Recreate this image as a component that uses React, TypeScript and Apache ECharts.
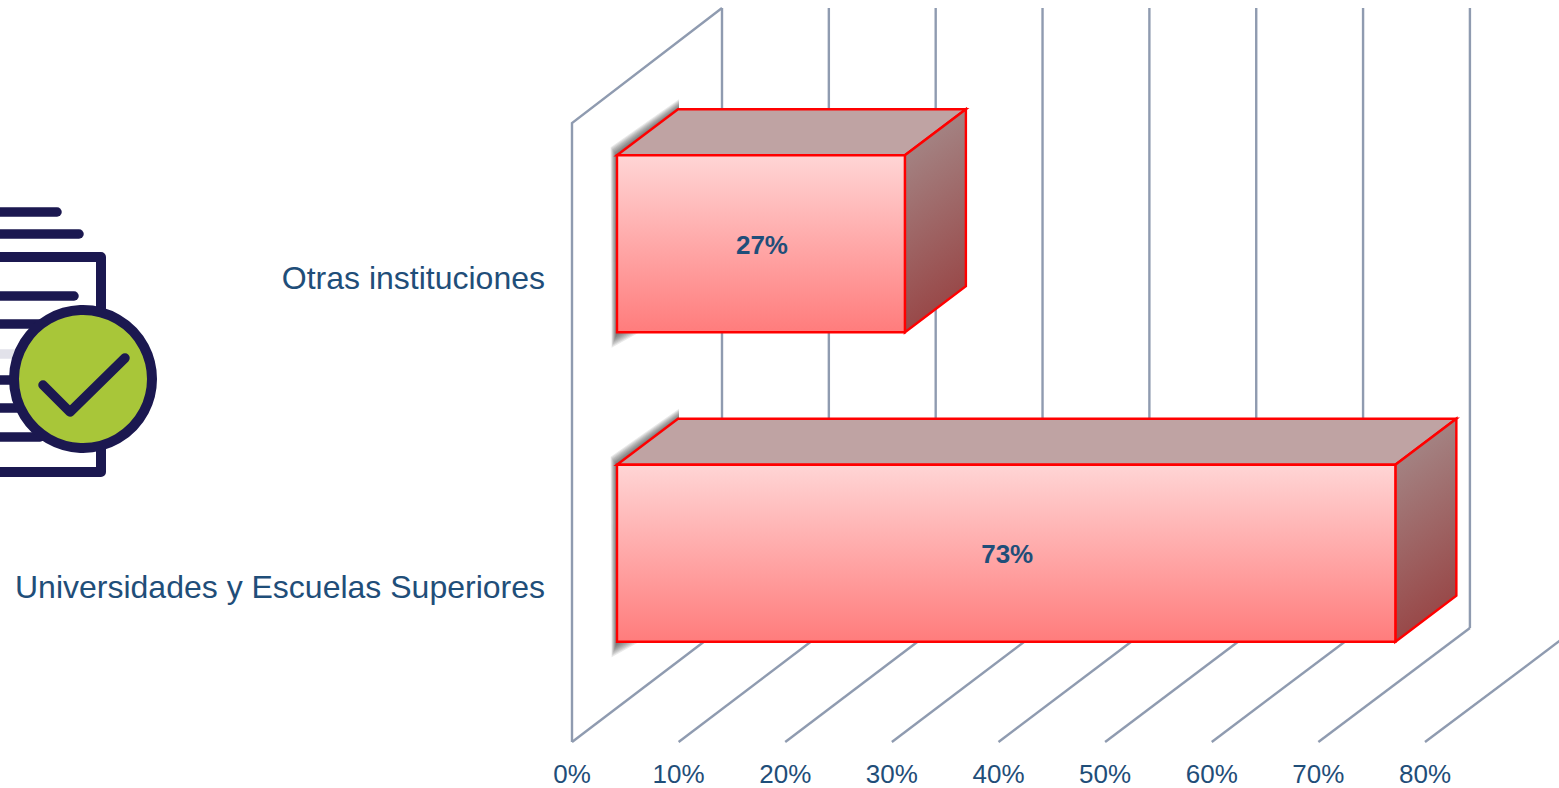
import React, { useEffect, useRef } from "react";
import * as echarts from "echarts";

const categories = ["Otras instituciones", "Universidades y Escuelas Superiores"];
const shareValues = [27, 73];
const axisTicks = [0, 10, 20, 30, 40, 50, 60, 70, 80];

const TEXT = "#1F4E79";
const GRID = "#8F9BB0";
const NAVY = "#1B1850";
const FONT = '"Liberation Sans", Arial, sans-serif';

// 3D projection offsets, in pixels
const WALL_DX = 150;
const WALL_DY = -114;
const WALL_SPREAD = 0.022;
const BAR_START_DX = 45;
const BAR_START_DY = -34;
const BAR_DEPTH_DX = 61;
const BAR_DEPTH_DY = -46;
const BAR_BAND = 0.572;
const SHADOW_LAYERS = [9, 8, 7, 6, 5, 4, 3, 2, 1];

function renderGrid(params: any, api: any) {
  const t = api.value(0);
  const x = api.coord([t, 0])[0];
  const backX = x + WALL_DX + t * WALL_SPREAD;
  const sys = params.coordSys;
  const top = sys.y;
  const floor = sys.y + sys.height;
  const lineStyle = { stroke: GRID, lineWidth: 2.4, fill: "none" };
  const children: any[] = [
    { type: "line", shape: { x1: x, y1: floor, x2: backX, y2: floor + WALL_DY }, style: lineStyle },
    { type: "line", shape: { x1: backX, y1: floor + WALL_DY, x2: backX, y2: top + WALL_DY - 1 }, style: lineStyle },
  ];
  if (t === 0) {
    children.push({
      type: "polyline",
      shape: { points: [[x, floor], [x, top], [backX, top + WALL_DY - 1]] },
      style: lineStyle,
    });
  }
  return { type: "group", children };
}

function renderBar(_params: any, api: any) {
  const v = api.value(0);
  const cat = api.value(1);
  const start = api.coord([0, cat]);
  const end = api.coord([v, cat]);
  const h = api.size([0, 1])[1] * BAR_BAND;
  const x0 = start[0] + BAR_START_DX;
  const x1 = end[0] + BAR_START_DX;
  const cy = start[1] + BAR_START_DY;
  const y0 = cy - h / 2;
  const y1 = cy + h / 2;
  const dx = BAR_DEPTH_DX;
  const dy = BAR_DEPTH_DY;
  const edge = { stroke: "#FF0000", lineWidth: 2.4, lineJoin: "miter" };
  const shadows = SHADOW_LAYERS.map((s) => ({
    type: "polygon",
    shape: {
      points: [
        [x0 - s * 0.6, y1 + 1.6 * s + 1],
        [x0 + 2.5 * s, y1],
        [x0 + 3 * s, y0],
        [x0 + dx + 1, y0 + dy],
        [x0 + dx + 1, y0 + dy - s * 1.1],
        [x0 - s * 0.7, y0 - s * 0.9],
      ],
    },
    style: { fill: "rgba(55,55,55,0.11)" },
  }));
  return {
    type: "group",
    children: [
      ...shadows,
      {
        type: "polygon",
        shape: { points: [[x0, y0], [x0 + dx, y0 + dy], [x1 + dx, y0 + dy], [x1, y0]] },
        style: { fill: "#BFA3A3", ...edge },
      },
      {
        type: "polygon",
        shape: { points: [[x1, y0], [x1 + dx, y0 + dy], [x1 + dx, y1 + dy], [x1, y1]] },
        style: {
          fill: new echarts.graphic.LinearGradient(0, 0, 0.2, 1, [
            { offset: 0, color: "#A69090" },
            { offset: 1, color: "#984646" },
          ]),
          ...edge,
        },
      },
      {
        type: "rect",
        shape: { x: x0, y: y0, width: x1 - x0, height: y1 - y0 },
        style: {
          fill: new echarts.graphic.LinearGradient(0, 0, 0, 1, [
            { offset: 0, color: "#FFD5D5" },
            { offset: 1, color: "#FF7C7C" },
          ]),
          ...edge,
        },
      },
      {
        type: "text",
        x: (x0 + x1) / 2 + 1,
        y: cy + 1,
        style: {
          text: v + "%",
          fill: TEXT,
          font: `bold 26px ${FONT}`,
          align: "center",
          verticalAlign: "middle",
        },
      },
    ],
  };
}

const iconLine = (x2: number, y: number, stroke = NAVY) => ({
  type: "line",
  z: 1,
  shape: { x1: -10, y1: y, x2, y2: y },
  style: { stroke, lineWidth: 9.5, lineCap: "round" },
});

const iconGraphic = [
  iconLine(57, 212),
  iconLine(79, 234),
  iconLine(74, 296),
  iconLine(40, 324),
  iconLine(20, 354, "#E2E2EA"),
  iconLine(15, 380),
  iconLine(20, 408),
  iconLine(40, 437),
  {
    type: "polyline",
    z: 1,
    shape: { points: [[-10, 257], [101, 257], [101, 472], [-10, 472]] },
    style: { stroke: NAVY, lineWidth: 10, fill: "none", lineJoin: "round" },
  },
  {
    type: "circle",
    z: 2,
    shape: { cx: 83, cy: 379, r: 69 },
    style: { fill: "#A8C639", stroke: NAVY, lineWidth: 10 },
  },
  {
    type: "polyline",
    z: 3,
    shape: { points: [[43, 385], [70, 412], [125, 358]] },
    style: { stroke: NAVY, lineWidth: 9.5, fill: "none", lineCap: "round", lineJoin: "round" },
  },
];

export default function App() {
  const ref = useRef<HTMLDivElement>(null);
  useEffect(() => {
    const chart = echarts.init(ref.current!, undefined, { renderer: "svg" });
    chart.setOption({
      animation: false,
      backgroundColor: "#FFFFFF",
      grid: { left: 572, top: 123, width: 853, height: 619, containLabel: false },
      xAxis: {
        type: "value",
        min: 0,
        max: 80,
        interval: 10,
        axisLine: { show: false },
        axisTick: { show: false },
        splitLine: { show: false },
        axisLabel: {
          formatter: "{value}%",
          color: TEXT,
          fontFamily: FONT,
          fontSize: 26,
          margin: 19,
          hideOverlap: false,
        },
      },
      yAxis: {
        type: "category",
        inverse: true,
        data: categories,
        axisLine: { show: false },
        axisTick: { show: false },
        splitLine: { show: false },
        axisLabel: {
          color: TEXT,
          fontFamily: FONT,
          fontSize: 32,
          margin: 27,
          interval: 0,
          padding: [3, 0, 0, 0],
        },
      },
      graphic: { elements: iconGraphic },
      series: [
        {
          type: "custom",
          name: "grid",
          silent: true,
          encode: { x: 0, y: 1 },
          data: axisTicks.map((t) => [t, 0]),
          renderItem: renderGrid,
          z: 1,
        },
        {
          type: "custom",
          name: "share",
          encode: { x: 0, y: 1 },
          data: shareValues.map((v, i) => [v, i]),
          renderItem: renderBar,
          z: 2,
        },
      ],
    });
    return () => chart.dispose();
  }, []);
  return (
    <div
      ref={ref}
      style={{ position: "absolute", left: 0, top: 0, width: 1559, height: 788 }}
    />
  );
}
